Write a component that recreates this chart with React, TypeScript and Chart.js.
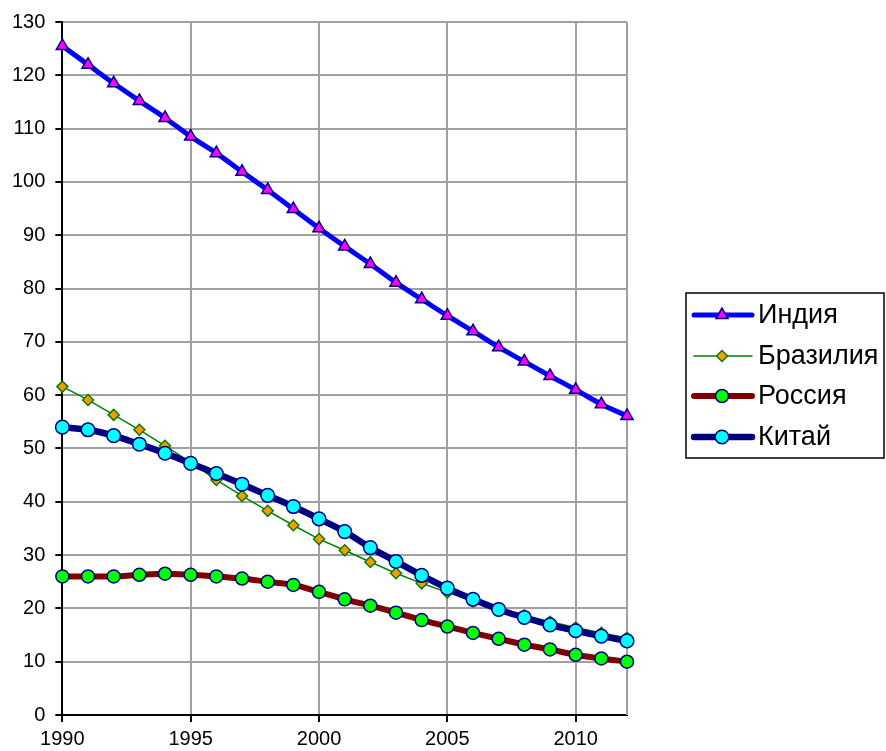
import React, { useEffect, useRef } from "react";
import { Chart, registerables } from "chart.js";

Chart.register(...registerables);

const years = [1990, 1991, 1992, 1993, 1994, 1995, 1996, 1997, 1998, 1999, 2000, 2001, 2002, 2003, 2004, 2005, 2006, 2007, 2008, 2009, 2010, 2011, 2012];
const india = [125.5, 122, 118.5, 115.2, 112, 108.5, 105.4, 101.9, 98.5, 94.9, 91.3, 87.9, 84.6, 81.1, 78, 74.9, 72, 69, 66.3, 63.6, 61, 58.3, 56.1];
const brazil = [61.6, 59.1, 56.3, 53.5, 50.5, 47.4, 44.1, 41.1, 38.3, 35.6, 33.0, 30.9, 28.7, 26.6, 24.7, 23.0, 21.3, 19.9, 18.7, 17.5, 16.4, 15.4, 14.5];
const russia = [26, 26, 26, 26.3, 26.5, 26.3, 26, 25.6, 25, 24.4, 23.1, 21.7, 20.5, 19.2, 17.8, 16.6, 15.4, 14.3, 13.2, 12.3, 11.3, 10.6, 10];
const china = [54, 53.5, 52.4, 50.8, 49.1, 47.2, 45.3, 43.3, 41.2, 39.1, 36.8, 34.4, 31.4, 28.8, 26.2, 23.8, 21.7, 19.8, 18.3, 16.9, 15.8, 14.8, 13.9];
const seriesNames = ["Индия", "Бразилия", "Россия", "Китай"];
const yMin = 0;
const yMax = 130;
const yStep = 10;
const xStep = 5;

const FONT = "'Liberation Sans', Arial, sans-serif";

type Style = {
  line: string;
  lineWidth: number;
  fill: string;
  border: string;
  shape: "triangle" | "rectRot" | "circle";
  radius: number;
  order: number;
  monotone: boolean;
};

const styles: Style[] = [
  { line: "#0000ff", lineWidth: 5, fill: "#ff00ff", border: "#000080", shape: "triangle", radius: 7, order: 3, monotone: true },
  { line: "#008000", lineWidth: 1.5, fill: "#ff9900", border: "#008000", shape: "rectRot", radius: 5.5, order: 2, monotone: false },
  { line: "#800000", lineWidth: 6, fill: "#00ff00", border: "#000080", shape: "circle", radius: 6.5, order: 1, monotone: true },
  { line: "#000080", lineWidth: 6.5, fill: "#00ffff", border: "#000080", shape: "circle", radius: 6.8, order: 0, monotone: true },
];

function drawMarker(ctx: CanvasRenderingContext2D, s: Style, x: number, y: number) {
  const r = s.radius;
  ctx.beginPath();
  if (s.shape === "triangle") {
    ctx.moveTo(x, y - r);
    ctx.lineTo(x + r * Math.sin((2 * Math.PI) / 3), y + r * 0.5);
    ctx.lineTo(x - r * Math.sin((2 * Math.PI) / 3), y + r * 0.5);
    ctx.closePath();
  } else if (s.shape === "rectRot") {
    ctx.moveTo(x - r, y);
    ctx.lineTo(x, y - r);
    ctx.lineTo(x + r, y);
    ctx.lineTo(x, y + r);
    ctx.closePath();
  } else {
    ctx.arc(x, y, r, 0, Math.PI * 2);
  }
  ctx.fillStyle = s.fill;
  ctx.fill();
  ctx.lineWidth = 1.5;
  ctx.strokeStyle = s.border;
  ctx.stroke();
}

const framePlugin = {
  id: "frameAndLegend",
  beforeDatasetsDraw(chart: any) {
    const { ctx, chartArea } = chart;
    ctx.save();
    ctx.strokeStyle = "#a0a0a0";
    ctx.lineWidth = 2;
    ctx.beginPath();
    ctx.moveTo(chartArea.right, chartArea.top);
    ctx.lineTo(chartArea.right, chartArea.bottom);
    ctx.stroke();
    ctx.restore();
  },
  afterDraw(chart: any) {
    const { ctx, chartArea } = chart;
    const bx = chartArea.right + 59;
    const by = 293;
    ctx.save();
    ctx.strokeStyle = "#000";
    ctx.lineWidth = 1.5;
    ctx.strokeRect(bx, by, 198, 165);
    const rows = [315, 356, 396, 437];
    seriesNames.forEach((name, i) => {
      const s = styles[i];
      const y = rows[i];
      ctx.beginPath();
      ctx.strokeStyle = s.line;
      ctx.lineWidth = s.lineWidth;
      ctx.lineCap = "round";
      ctx.moveTo(bx + 8, y);
      ctx.lineTo(bx + 66, y);
      ctx.stroke();
      drawMarker(ctx, s, bx + 36, y);
      ctx.fillStyle = "#000";
      ctx.font = `27px ${FONT}`;
      ctx.textAlign = "left";
      ctx.textBaseline = "middle";
      ctx.fillText(name, bx + 72, y + 1);
    });
    ctx.restore();
  },
};

export default function App() {
  const ref = useRef<HTMLCanvasElement | null>(null);
  useEffect(() => {
    if (!ref.current) return;
    const all = [india, brazil, russia, china];
    const chart = new Chart(ref.current, {
      type: "line",
      data: {
        datasets: all.map((vals, i) => {
          const s = styles[i];
          return {
            label: seriesNames[i],
            data: vals.map((v, j) => ({ x: years[j], y: v })),
            borderColor: s.line,
            borderWidth: s.lineWidth,
            backgroundColor: s.fill,
            pointBackgroundColor: s.fill,
            pointBorderColor: s.border,
            pointBorderWidth: 1.5,
            pointStyle: s.shape,
            pointRadius: s.radius,
            pointHoverRadius: s.radius,
            cubicInterpolationMode: s.monotone ? "monotone" : "default",
            tension: 0,
            order: s.order,
            clip: false,
            fill: false,
          } as any;
        }),
      },
      options: {
        animation: false,
        responsive: false,
        maintainAspectRatio: false,
        events: [],
        layout: { padding: { left: 2, right: 259, top: 22, bottom: -5 } },
        plugins: { legend: { display: false }, tooltip: { enabled: false } },
        scales: {
          x: {
            type: "linear",
            min: years[0],
            max: years[years.length - 1],
            ticks: {
              stepSize: xStep,
              includeBounds: false,
              color: "#000",
              font: { family: FONT, size: 20 },
              padding: 5,
              maxRotation: 0,
              callback: (v: any) => String(v),
            },
            grid: { color: "#a0a0a0", lineWidth: 2, tickColor: "#000", tickLength: 7, tickWidth: 2 },
            border: { color: "#000", width: 2 },
          },
          y: {
            min: yMin,
            max: yMax,
            ticks: {
              stepSize: yStep,
              color: "#000",
              font: { family: FONT, size: 20 },
              padding: 10,
            },
            grid: { color: "#a0a0a0", lineWidth: 2, tickColor: "#000", tickLength: 7, tickWidth: 2 },
            border: { color: "#000", width: 2 },
          },
        },
      },
      plugins: [framePlugin],
    });
    return () => chart.destroy();
  }, []);
  return (
    <div style={{ position: "fixed", left: 0, top: 0, width: 886, height: 751, background: "#fff" }}>
      <canvas ref={ref} width={886} height={751} style={{ width: 886, height: 751, display: "block" }} />
    </div>
  );
}
